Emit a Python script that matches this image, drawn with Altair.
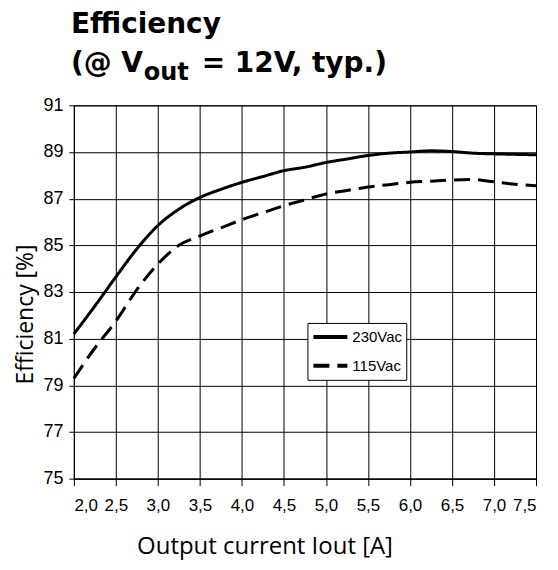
import pandas as pd
import altair as alt

# values
current = [2.0, 2.25, 2.5, 2.75, 3.0, 3.25, 3.5, 3.75, 4.0, 4.25, 4.5, 4.75,
           5.0, 5.25, 5.5, 5.75, 6.0, 6.25, 6.5, 6.75, 7.0, 7.25, 7.5]
eff_230 = [81.2, 82.4, 83.65, 84.85, 85.85, 86.55, 87.05, 87.4, 87.7, 87.95,
           88.2, 88.35, 88.55, 88.7, 88.85, 88.95, 89.0, 89.05, 89.02, 88.95,
           88.92, 88.9, 88.88]
eff_115 = [79.3, 80.6, 81.75, 83.1, 84.2, 85.0, 85.4, 85.75, 86.1, 86.4,
           86.7, 86.95, 87.2, 87.35, 87.5, 87.6, 87.7, 87.75, 87.8, 87.82,
           87.72, 87.62, 87.55]
series = ["230Vac", "115Vac"]

x_ticks = [2.0, 2.5, 3.0, 3.5, 4.0, 4.5, 5.0, 5.5, 6.0, 6.5, 7.0, 7.5]
y_ticks = [75, 77, 79, 81, 83, 85, 87, 89, 91]

title_line1 = "Efficiency"
title_line2 = ["(@ V", "out", "= 12V, typ.)"]

df = pd.concat([
    pd.DataFrame({"current": current, "eff": eff_230, "series": series[0]}),
    pd.DataFrame({"current": current, "eff": eff_115, "series": series[1]}),
])

label_font = "Liberation Sans"

lines = alt.Chart(df).mark_line(
    color="black", strokeWidth=3, interpolate="monotone"
).encode(
    x=alt.X("current:Q",
            scale=alt.Scale(domain=[2.0, 7.5], nice=False, zero=False),
            axis=alt.Axis(values=x_ticks, title="Output current Iout [A]",
                          labelExpr="replace(format(datum.value, '.1f'), '.', ',')",
                          tickSize=7, labelPadding=12,
                          titleX=191, titleY=75, titleAlign="center",
                          titleBaseline="alphabetic")),
    y=alt.Y("eff:Q",
            scale=alt.Scale(domain=[75, 91], nice=False, zero=False),
            axis=alt.Axis(values=y_ticks, title="Efficiency [%]",
                          tickSize=5, labelPadding=6, labelFontSize=18,
                          titleX=-41, titleY=209, titleAngle=270,
                          titleFontSize=23,
                          titleAlign="center", titleBaseline="alphabetic")),
    strokeDash=alt.StrokeDash(
        "series:N",
        scale=alt.Scale(domain=series, range=[[1, 0], [16, 8]]),
        legend=alt.Legend(title=None, orient="none", legendX=234, legendY=218,
                          strokeColor="black", fillColor="white", padding=4,
                          symbolType="stroke", symbolSize=1156, clipHeight=20,
                          symbolStrokeWidth=4, symbolStrokeColor="black",
                          labelFont=label_font, labelFontSize=15,
                          labelColor="black", labelOffset=3, rowPadding=9),
    ),
)


def title_text(txt, x, y, size):
    return alt.Chart(pd.DataFrame({"t": [txt]})).mark_text(
        align="left", baseline="alphabetic", font="DejaVu Sans",
        fontWeight="bold", fontSize=size, color="black"
    ).encode(text="t:N", x=alt.value(x), y=alt.value(y))


chart = alt.layer(
    lines,
    title_text(title_line1, -3, -72, 28),
    title_text(title_line2[0], -3, -33, 28),
    title_text(title_line2[1], 70, -25, 24),
    title_text(title_line2[2], 128, -33, 28),
).properties(
    width=463, height=374,
    padding={"left": 66, "top": 97, "right": 14, "bottom": 90},
    autosize=alt.AutoSizeParams(type="none"),
    background="white",
).configure_view(
    stroke="black", strokeWidth=1
).configure_axis(
    grid=True, gridColor="black", gridOpacity=1, gridWidth=1,
    domainColor="black", tickColor="black", labelColor="black",
    titleColor="black", labelFont=label_font, labelFontSize=17,
    titleFont="Open Sans", titleFontSize=24, titleFontWeight="normal",
)

chart.save("out.html", embed_options={"renderer": "svg", "actions": False})
